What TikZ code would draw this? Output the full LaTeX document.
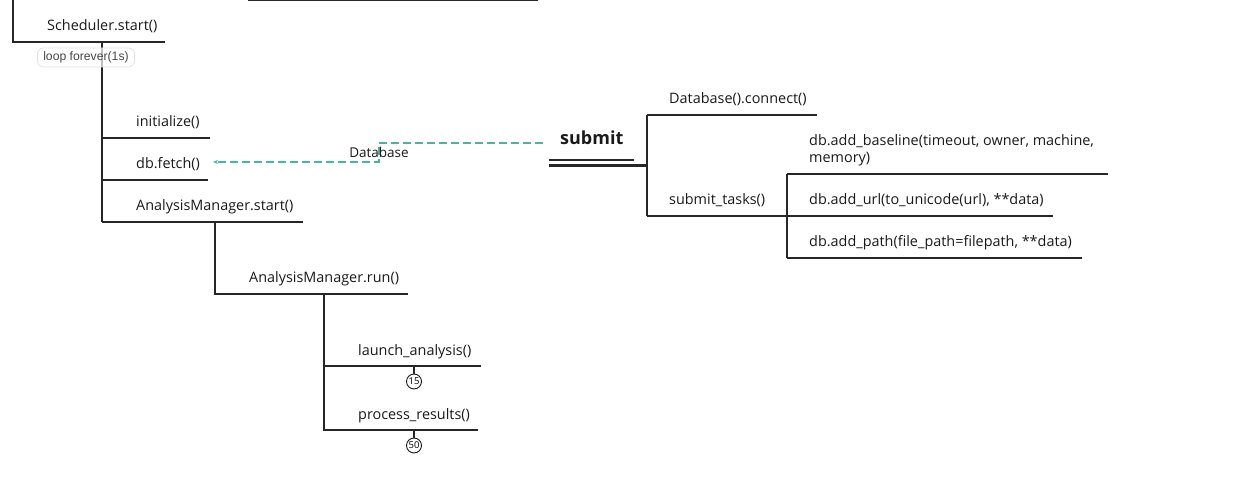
\documentclass[tikz,border=0pt]{standalone}
\usepackage{fontspec}
\setmainfont{Open Sans}
\newfontfamily\labfont{Liberation Sans}
\usetikzlibrary{arrows.meta}
\definecolor{teal1}{HTML}{4DB3A0}
\begin{document}
\begin{tikzpicture}[x=1pt,y=-1pt,
  ln/.style={line width=2.1pt, draw=black!85},
  lbl/.style={anchor=base west, inner sep=0pt, font=\fontsize{14.4}{17}\selectfont, text=black!90, align=left},
  cnt/.style={circle, draw=black!90, line width=0.9pt, inner sep=0pt, minimum size=15pt, font=\fontsize{9.5}{10}\selectfont, fill=white},
  loopbox/.style={rounded corners=6pt, draw=black!12, line width=0.7pt, fill=white, fill opacity=0.7, text opacity=1, minimum width=97pt, minimum height=19pt, inner sep=0pt, font=\labfont\fontsize{12.2}{13}\selectfont, text=black!72},
  dbarrow/.style={draw=teal1, line width=1.4pt, dash pattern=on 8pt off 4pt, -{Stealth[length=5pt,width=4pt]}}
]
\useasboundingbox (0,0) rectangle (1244,478);

% top fragment
\draw[ln] (248,0) -- (538,0);

% Scheduler branch
\draw[ln] (13,0) -- (13,42) -- (165,42);
\node[lbl] (sched) at (47,30.5) {Scheduler.start()};
\draw[ln] (102,42) -- (102,222);
\node[loopbox] (loop) at (86,57.5) {loop forever(1s)};

\draw[ln] (102,138) -- (210,138);
\node[lbl] (init) at (136,127) {initialize()};
\draw[ln] (102,180) -- (208,180);
\node[lbl] (fetch) at (136,169) {db.fetch()};
\draw[ln] (102,222) -- (303,222);
\node[lbl] (amstart) at (136,211) {AnalysisManager.start()};

\draw[ln] (215,222) -- (215,294) -- (408,294);
\node[lbl] (amrun) at (249,283) {AnalysisManager.run()};

\draw[ln] (324,294) -- (324,430) -- (478,430);
\draw[ln] (324,366) -- (481,366);
\node[lbl] (launch) at (358,355) {launch\_analysis()};
\node[lbl] (proc) at (358,419) {process\_results()};

\node[cnt] (c15) at (414,381.5) {15};
\node[cnt] (c50) at (414,445.5) {50};
\draw[ln, line width=1.4pt] (414,366) -- (c15.north);
\draw[ln, line width=1.4pt] (414,430) -- (c50.north);

% submit branch
\node[anchor=base west, inner sep=0pt, font=\bfseries\fontsize{18}{20}\selectfont, text=black!90] (submit) at (560,145) {submit};
\draw[ln] (549,160) -- (634,160);
\draw[ln] (549,165.5) -- (647,165.5);
\draw[ln] (647,115) -- (647,216);
\draw[ln] (647,115) -- (817,115);
\node[lbl] (connect) at (669,104) {Database().connect()};
\draw[ln] (647,216) -- (787,216);
\node[lbl] (tasks) at (669,205) {submit\_tasks()};

\draw[ln] (787,174) -- (787,258);
\draw[ln] (787,174) -- (1108,174);
\node[lbl] (baseline) at (809,162.5) {db.add\_baseline(timeout, owner, machine,\\memory)};
\draw[ln] (787,216) -- (1053,216);
\node[lbl] (addurl) at (809,205) {db.add\_url(to\_unicode(url), **data)};
\draw[ln] (787,258) -- (1082,258);
\node[lbl] (addpath) at (809,247) {db.add\_path(file\_path=filepath, **data)};

% dashed Database arrow
\coordinate (dstart) at (543,143);
\coordinate (dbend1) at (379,143);
\coordinate (dbend2) at (379,162);
\coordinate (dend) at (213,162);
\draw[dbarrow] (dstart) -- (dbend1) -- (dbend2) -- (dend);
\node[inner sep=0pt, font=\fontsize{13.5}{15}\selectfont, text=black!90] (dblabel) at (379,152.5) {Database};
\end{tikzpicture}
\end{document}
